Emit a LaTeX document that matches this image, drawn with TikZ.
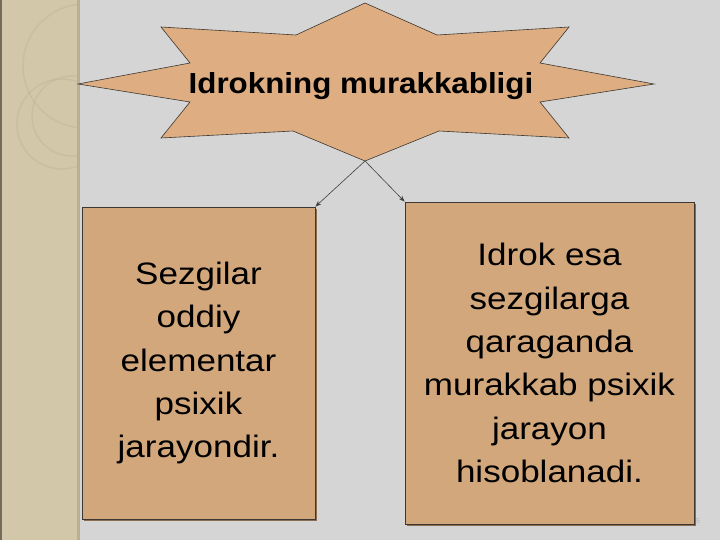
\documentclass[tikz,border=0pt]{standalone}
\usepackage{fontspec}
\setmainfont{Liberation Sans}
\newfontfamily\boxfont[FakeStretch=1.13]{Liberation Sans}
\newfontfamily\titlefont[FakeStretch=1.08]{Liberation Sans Bold}
\usetikzlibrary{arrows.meta}
\definecolor{bggray}{RGB}{213,213,213}
\definecolor{strip}{RGB}{210,199,168}
\definecolor{stripedge}{RGB}{185,175,148}
\definecolor{tan}{RGB}{211,167,124}
\definecolor{startan}{RGB}{222,174,130}
\definecolor{bordergray}{RGB}{60,55,50}
\tikzset{
  box/.style={draw=bordergray, line width=0.8pt, fill=tan, align=center,
    font=\boxfont\fontsize{31}{43.3}\selectfont, inner sep=0pt},
  link/.style={draw=black!75, line width=0.6pt, -{Stealth[length=6pt,width=4.5pt]}},
  deco/.style={draw=stripedge, line width=1.5pt, opacity=0.35}
}
\begin{document}
\begin{tikzpicture}[x=1pt,y=-1pt]
\useasboundingbox (0,0) rectangle (720,540);
\fill[bggray] (0,0) rectangle (720,540);
% left decorative strip
\fill[strip] (0,0) rectangle (79,540);
\fill[stripedge] (77,0) rectangle (80,540);
\fill[black!45!strip] (0,0) rectangle (1.5,540);
\begin{scope}
\clip (2,0) rectangle (77,540);
\draw[deco] (62,124) circle (45);
\draw[deco] (72,116) circle (40);
\draw[deco] (85,66) circle (62);
\end{scope}
% shadows
\fill[black!35!tan] (84,209) rectangle (317,521);
\fill[black!35!tan] (407,204) rectangle (696,526);
% star
\filldraw[fill=startan, draw=bordergray, line width=0.6pt]
  (365,3) -- (437,35) -- (569,27) -- (540,63) -- (654,84) -- (540,102)
  -- (569,138) -- (439,131) -- (365,161) -- (293,131) -- (161,138)
  -- (190,102) -- (78,84) -- (190,63) -- (161,27) -- (296,35) -- cycle;
\node[font=\titlefont\fontsize{29}{32}\selectfont] (title) at (361,86) {Idrokning murakkabligi};
\coordinate (sb) at (365,161);
% boxes
\node[box, minimum width=233pt, minimum height=312pt] (lb) at (198.5,363)
  {Sezgilar\\oddiy\\elementar\\psixik\\jarayondir.};
\node[box, minimum width=289pt, minimum height=322pt] (rb) at (549.5,363)
  {Idrok esa\\sezgilarga\\qaraganda\\murakkab psixik\\jarayon\\hisoblanadi.};
% connectors
\draw[link] (sb) -- (lb.north east);
\draw[link] (sb) -- (rb.north west);
\node[font=\fontsize{7}{8}\selectfont, text=black!30] (pg) at (698,521) {5};
\end{tikzpicture}
\end{document}
